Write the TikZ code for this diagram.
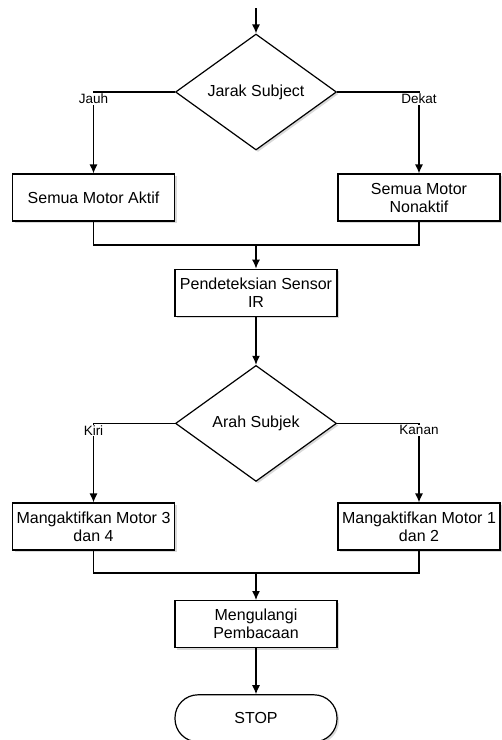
\documentclass[tikz,border=0pt]{standalone}
\usepackage{fontspec}
\setmainfont{Liberation Sans}
\usepackage{tikz}
\usetikzlibrary{positioning, shapes.geometric, shadows, arrows.meta}

\begin{document}
\begin{tikzpicture}[x=1pt, y=-1pt, line width=1.2pt]

  \tikzstyle{module}=[draw, fill=white, align=center, inner sep=1pt,
    font=\fontsize{16}{18}\selectfont,
    drop shadow={shadow xshift=2pt, shadow yshift=-2pt, opacity=0.3, fill=gray}]
  \tikzstyle{process}=[module, minimum width=162pt, minimum height=47pt]
  \tikzstyle{decision}=[module, diamond, inner sep=0pt, minimum width=161pt, minimum height=116pt]
  \tikzstyle{terminal}=[process, rounded corners=23pt]
  \tikzstyle{choice}=[fill=white, inner sep=1pt, font=\fontsize{13.5}{15}\selectfont, yshift=-7pt]
  \tikzstyle{flow}=[-{Latex[length=9pt, width=8pt]}]

  \useasboundingbox (0,0) rectangle (502,740);

  \coordinate (start) at (256,8);

  \node [decision] (jarak) at (256,92) {Jarak Subject};

  \node [process] (aktif) at (93.5,197.5) {Semua Motor Aktif};
  \node [process] (nonaktif) at (419,197.5) {
    Semua Motor \\
    Nonaktif
  };

  \node [process, below = 118pt of jarak] (sensor) {
    Pendeteksian Sensor \\
    IR
  };
  \node [decision, below = 48pt of sensor] (arah) {Arah Subjek};

  \node [process] (motor-34) at (93.5,526.5) {
    Mangaktifkan Motor 3 \\
    dan 4
  };
  \node [process] (motor-12) at (419,526.5) {
    Mangaktifkan Motor 1 \\
    dan 2
  };

  \node [process, below = 118pt of arah] (ulang) {
    Mengulangi \\
    Pembacaan
  };
  \node [terminal, below = 46pt of ulang] (stop) {STOP};

  \coordinate (join-1) at (256,245);
  \coordinate (join-2) at (256,573);

  \draw [flow] (start) -- (jarak);

  \draw [flow] (jarak.west) -| (aktif) node[choice, pos=0.5] {Jauh};
  \draw [flow] (jarak.east) -| (nonaktif) node[choice, pos=0.5] {Dekat};

  \draw (aktif) |- (join-1);
  \draw (nonaktif) |- (join-1);
  \draw [flow] (join-1) -- (sensor);

  \draw [flow] (sensor) -- (arah);

  \draw [flow] (arah.west) -| (motor-34) node[choice, pos=0.5] {Kiri};
  \draw [flow] (arah.east) -| (motor-12) node[choice, pos=0.5] {Kanan};

  \draw (motor-34) |- (join-2);
  \draw (motor-12) |- (join-2);
  \draw [flow] (join-2) -- (ulang);

  \draw [flow] (ulang) -- (stop);

\end{tikzpicture}
\end{document}
